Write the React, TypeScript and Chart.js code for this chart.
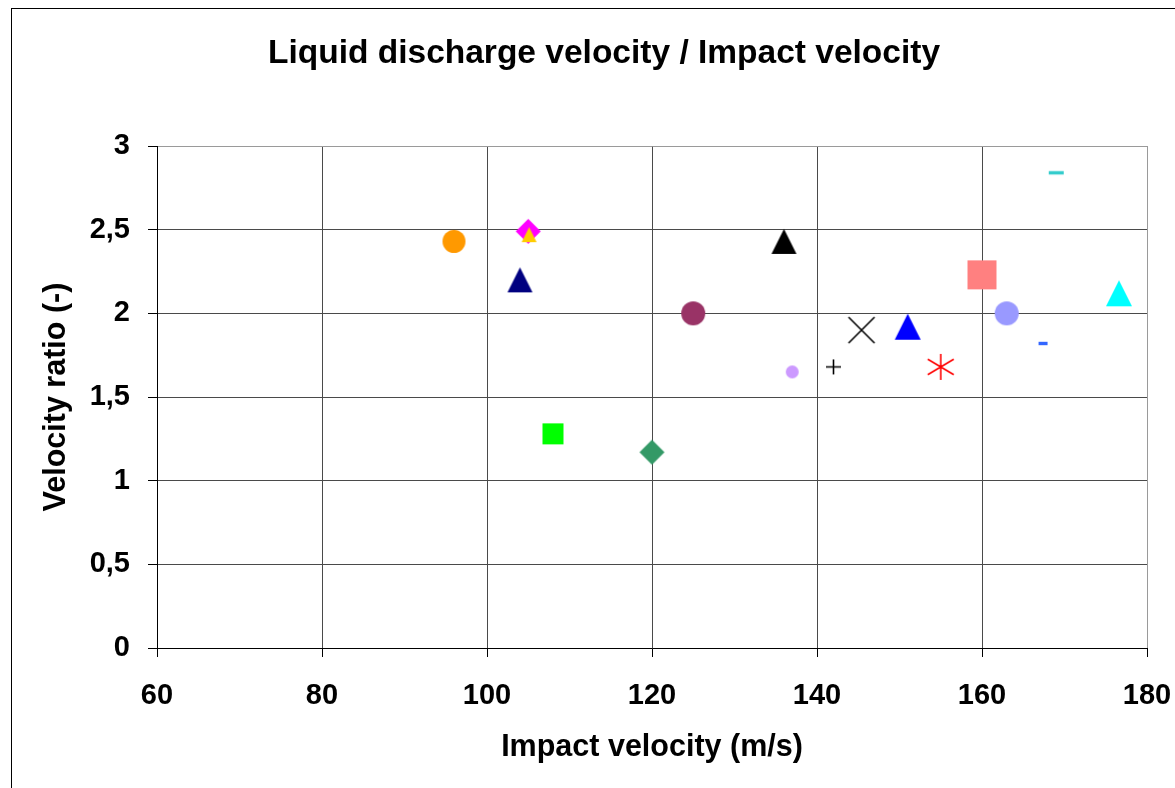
import React, { useEffect, useRef } from 'react';
import { Chart, registerables } from 'chart.js';

Chart.register(...registerables);

// ---- data ----
const impactVelocity = [96, 105.1, 105, 104, 125, 136, 108, 120, 137, 142, 145.4, 151, 155, 160, 163, 167.4, 169, 176.6];
const velocityRatio = [2.43, 2.47, 2.49, 2.2, 2.0, 2.43, 1.28, 1.17, 1.65, 1.68, 1.9, 1.92, 1.68, 2.23, 2.0, 1.82, 2.84, 2.12];

// ---- styles (kept separate from data) ----
const markerColors = ['#FF9900', '#FFCC00', '#FF00FF', '#000080', '#993366', '#000000', '#00FF00', '#339966', '#CC99FF', '#000000', '#000000', '#0000FF', '#FF0000', '#FF8080', '#9999FF', '#3366FF', '#33CCCC', '#00FFFF'];
const markerShapes = ['circle', 'triangle', 'diamond', 'triangle', 'circle', 'triangle', 'square', 'diamond', 'circle', 'plus', 'x', 'triangle', 'asterisk', 'square', 'circle', 'dash', 'dash', 'triangle'];
const markerSizes = [23, 15, 25, 25, 24, 25, 21, 25, 13, 15, 26, 26, 26, 29, 24, 9, 15, 26];

const chartTitle = 'Liquid discharge velocity / Impact velocity';
const xTitle = 'Impact velocity (m/s)';
const yTitle = 'Velocity ratio (-)';
const xMin = 60, xMax = 180, xStep = 20;
const yMin = 0, yMax = 3, yStep = 0.5;

const FONT = "'Liberation Sans', Arial, sans-serif";

function makeMarker(shape: string, size: number, color: string): HTMLCanvasElement {
  const pad = 4;
  const dim = Math.ceil(size + pad * 2);
  const cv = document.createElement('canvas');
  cv.width = dim;
  cv.height = dim;
  const ctx = cv.getContext('2d')!;
  const c = dim / 2;
  const h = size / 2;
  ctx.fillStyle = color;
  ctx.strokeStyle = color;
  ctx.lineWidth = 1.6;
  ctx.beginPath();
  switch (shape) {
    case 'circle':
      ctx.arc(c, c, h, 0, Math.PI * 2);
      ctx.fill();
      break;
    case 'square':
      ctx.fillRect(c - h, c - h, size, size);
      break;
    case 'diamond':
      ctx.moveTo(c, c - h);
      ctx.lineTo(c + h, c);
      ctx.lineTo(c, c + h);
      ctx.lineTo(c - h, c);
      ctx.closePath();
      ctx.fill();
      break;
    case 'triangle':
      ctx.moveTo(c, c - h);
      ctx.lineTo(c + h, c + h);
      ctx.lineTo(c - h, c + h);
      ctx.closePath();
      ctx.fill();
      break;
    case 'plus':
      ctx.moveTo(c - h, c);
      ctx.lineTo(c + h, c);
      ctx.moveTo(c, c - h);
      ctx.lineTo(c, c + h);
      ctx.stroke();
      break;
    case 'x':
      ctx.moveTo(c - h, c - h);
      ctx.lineTo(c + h, c + h);
      ctx.moveTo(c + h, c - h);
      ctx.lineTo(c - h, c + h);
      ctx.stroke();
      break;
    case 'asterisk':
      ctx.moveTo(c, c - h);
      ctx.lineTo(c, c + h);
      ctx.moveTo(c - h, c - h * 0.6);
      ctx.lineTo(c + h, c + h * 0.6);
      ctx.moveTo(c + h, c - h * 0.6);
      ctx.lineTo(c - h, c + h * 0.6);
      ctx.stroke();
      break;
    case 'dash':
      ctx.fillRect(c - h, c - 1.7, size, 3.4);
      break;
  }
  return cv;
}

const CANVAS_W = 1208;
const CANVAS_H = 788;
const SIDE_PAD = 61;

export default function App() {
  const ref = useRef<HTMLCanvasElement>(null);

  useEffect(() => {
    if (!ref.current) return;
    const datasets = impactVelocity.map((xv, i) => ({
      label: 'S' + (i + 1),
      data: [{ x: xv, y: velocityRatio[i] }],
      pointStyle: makeMarker(markerShapes[i], markerSizes[i], markerColors[i]) as any,
      pointRadius: markerSizes[i] / 2,
      backgroundColor: markerColors[i],
      borderColor: markerColors[i],
      showLine: false,
    }));

    const gridColor = (ctx: any, edge: number) =>
      ctx.tick && ctx.tick.value === edge ? '#9a9a9a' : '#4a4a4a';

    const chart = new Chart(ref.current, {
      type: 'scatter',
      data: { datasets },
      options: {
        responsive: false,
        animation: false,
        devicePixelRatio: 1,
        layout: { padding: { left: SIDE_PAD, right: SIDE_PAD, top: 0, bottom: 0 } },
        plugins: {
          legend: { display: false },
          tooltip: { enabled: false },
          title: {
            display: true,
            text: chartTitle,
            color: '#000',
            font: { family: FONT, size: 33.5, weight: 'bold', lineHeight: 1.2 },
            padding: { top: 33.9, bottom: 71.9 },
          },
        },
        scales: {
          x: {
            type: 'linear',
            min: xMin,
            max: xMax,
            afterFit: (s: any) => { s.height = 140; },
            ticks: {
              stepSize: xStep,
              color: '#000',
              padding: 22,
              maxRotation: 0,
              font: { family: FONT, size: 29, weight: 'bold', lineHeight: 1.2 },
            },
            grid: {
              color: (ctx: any) => gridColor(ctx, xMax),
              lineWidth: 1,
              tickLength: 9,
              tickColor: '#000',
            },
            border: { color: '#000', width: 1 },
            title: {
              display: true,
              text: xTitle,
              color: '#000',
              font: { family: FONT, size: 30.5, weight: 'bold', lineHeight: 1.2 },
              padding: { top: 0, bottom: 21.7 },
            },
          },
          y: {
            type: 'linear',
            min: yMin,
            max: yMax,
            afterFit: (s: any) => { s.width = 157 - SIDE_PAD; },
            ticks: {
              stepSize: yStep,
              color: '#000',
              padding: 18,
              font: { family: FONT, size: 29, weight: 'bold', lineHeight: 1.2 },
              callback: (v: any) => String(v).replace('.', ','),
            },
            grid: {
              color: (ctx: any) => gridColor(ctx, yMax),
              lineWidth: 1,
              tickLength: 9,
              tickColor: '#000',
            },
            border: { color: '#000', width: 1 },
            title: {
              display: true,
              text: yTitle,
              color: '#000',
              font: { family: FONT, size: 30.5, weight: 'bold', lineHeight: 1.2 },
              padding: { top: 57 - SIDE_PAD - 18.3, bottom: 0 },
            },
          },
        },
      },
    });
    return () => chart.destroy();
  }, []);

  return (
    <div style={{ position: 'fixed', left: 0, top: 0, width: 1175, height: 788, overflow: 'hidden', background: '#fff' }}>
      <div style={{ position: 'absolute', left: 11, top: 8, width: 1300, height: 900, border: '1px solid #000', boxSizing: 'border-box' }} />
      <canvas ref={ref} width={CANVAS_W} height={CANVAS_H} style={{ position: 'absolute', left: 0, top: 0, width: CANVAS_W, height: CANVAS_H }} />
    </div>
  );
}
